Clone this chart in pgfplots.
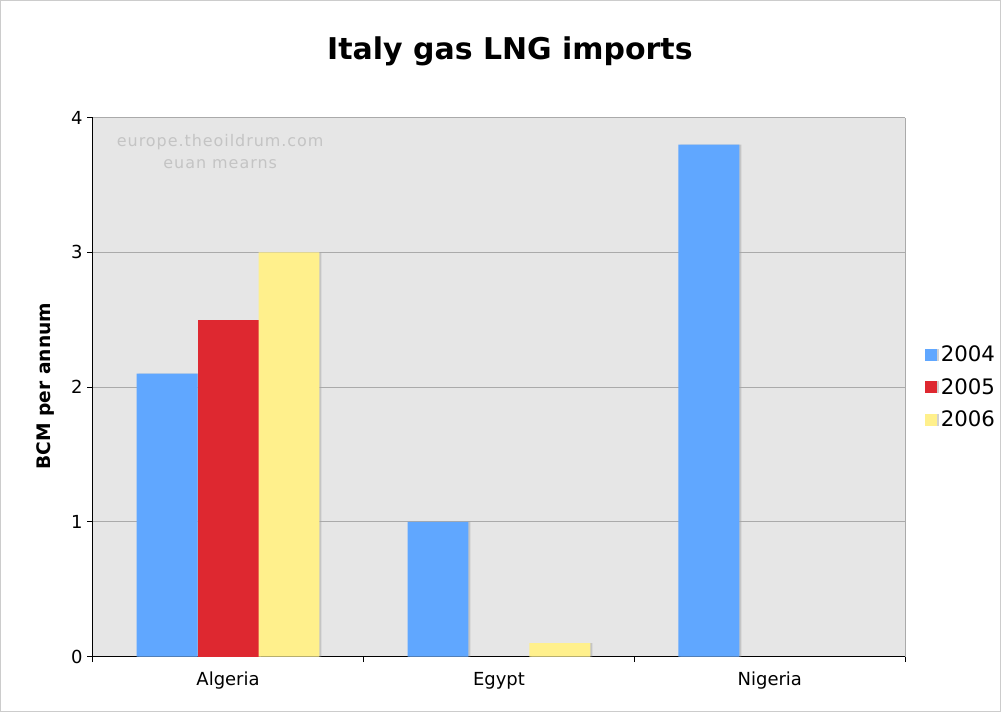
\documentclass[border=0pt]{standalone}
\usepackage{fontspec}
\setmainfont{DejaVu Sans}
\newfontfamily\wmfont[LetterSpace=6]{DejaVu Sans}
\usepackage{pgfplots}
\pgfplotsset{compat=1.18}

\definecolor{c2004}{RGB}{96,167,255}
\definecolor{c2005}{RGB}{222,40,48}
\definecolor{c2006}{RGB}{255,240,140}
\definecolor{plotbg}{RGB}{230,230,230}
\definecolor{gridc}{RGB}{170,170,170}
\definecolor{wmc}{RGB}{196,196,196}

\begin{document}
\begin{tikzpicture}[x=0.75pt,y=0.75pt]
  % outer frame, image coordinates in px (y up)
  \draw[black!20] (0.5,0.5) rectangle (1002.5,712.5);
  \node[font=\bfseries\fontsize{22.5}{26}\selectfont] at (511,661) {Italy gas LNG imports};
  \node[font=\bfseries\fontsize{14}{16}\selectfont, rotate=90] at (46,326) {BCM per annum};

  \begin{axis}[
      at={(69.75pt,41.25pt)}, anchor=south west,
      width=610.5pt, height=405pt, scale only axis,
      ybar=0pt, bar width=45.75pt,
      xmin=-0.5, xmax=2.5,
      ymin=0, ymax=4,
      xtick={-0.5,0.5,1.5,2.5},
      x tick label as interval,
      xticklabels={Algeria,Egypt,Nigeria},
      ytick={0,1,2,3,4},
      axis x line*=bottom, axis y line*=left,
      axis line style={black, line width=0.9pt},
      tick align=outside, major tick length=4pt,
      tick style={black, line width=0.8pt},
      ymajorgrids, grid style={gridc, line width=0.6pt},
      axis background/.style={fill=plotbg},
      /pgf/number format/assume math mode=true,
      tick label style={font=\fontsize{13.5}{15}\selectfont},
      xticklabel style={yshift=-4pt},
      legend image code/.code={\fill[#1] (0pt,-4.5pt) rectangle (9pt,4.5pt);},
      legend style={at={(1,0.5)}, anchor=west, xshift=11.5pt, draw=none, fill=none,
        font=\fontsize{16}{18}\selectfont, row sep=7pt,
        nodes={inner xsep=3pt}},
      legend cell align=left,
      clip=false,
    ]
    \addplot[fill=c2004, draw=none, preaction={fill=black!35, opacity=0.5, transform canvas={xshift=1.5pt}}]
      coordinates {(0,2.1) (1,1.0) (2,3.8)};
    \addplot[fill=c2005, draw=none, preaction={fill=black!35, opacity=0.5, transform canvas={xshift=1.5pt}}]
      coordinates {(0,2.5)};
    \addplot[fill=c2006, draw=none, preaction={fill=black!35, opacity=0.5, transform canvas={xshift=1.5pt}}]
      coordinates {(0,3.0) (1,0.1)};
    \legend{2004,2005,2006}
    \draw[gridc, line width=0.6pt] (rel axis cs:1,0) -- (rel axis cs:1,1);
    \node[text=wmc, font=\wmfont\fontsize{12}{16}\selectfont, align=center]
      at (rel axis cs:0.157,0.937) {europe.theoildrum.com\\euan mearns};
  \end{axis}
\end{tikzpicture}
\end{document}
